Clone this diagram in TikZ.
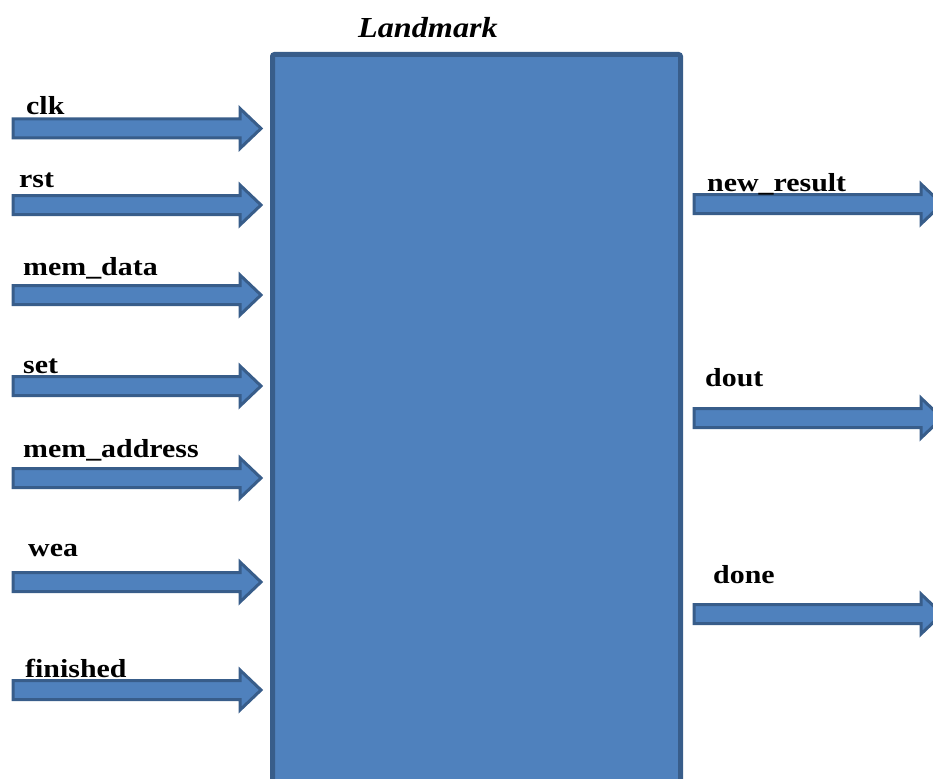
\documentclass[tikz,border=0pt]{standalone}
\usepackage{fontspec}
\setmainfont{Liberation Serif}
\usepackage{graphicx}
\definecolor{blockfill}{HTML}{4F81BD}
\definecolor{blockedge}{HTML}{385D8A}
\tikzset{
  sig/.style={anchor=base west, inner sep=0pt, font=\fontsize{26}{30}\selectfont\bfseries},
  arrowbody/.style={fill=blockfill, draw=blockedge, line width=3pt, line join=miter},
  blockarrow/.pic={
    \path[arrowbody] (0,-9.5) -- (227,-9.5) -- (227,-20) -- (248,0)
      -- (227,20) -- (227,9.5) -- (0,9.5) -- cycle;
  }
}
\newcommand{\siglabel}[1]{\scalebox{1.15}[1]{#1}}
\begin{document}
\begin{tikzpicture}[x=1pt, y=-1pt]
  \useasboundingbox (0,0) rectangle (933,778);
  \clip (0,0) rectangle (933,778);

  % module body
  \draw[fill=blockfill, draw=blockedge, line width=5pt, rounded corners=2pt]
    (272.5,54.5) rectangle (680.5,800);
  \node[anchor=base west, inner sep=0pt, font=\fontsize{29}{34}\selectfont\bfseries\itshape]
    (title) at (358,38) {\scalebox{1.11}[1]{Landmark}};

  % inputs
  \pic at (13,128.5) {blockarrow};
  \pic at (13,205)   {blockarrow};
  \pic at (13,295)   {blockarrow};
  \pic at (13,386)   {blockarrow};
  \pic at (13,478)   {blockarrow};
  \pic at (13,582)   {blockarrow};
  \pic at (13,690)   {blockarrow};
  \node[sig] (clk)     at (26,115) {\siglabel{clk}};
  \node[sig] (rst)     at (19,187) {\siglabel{rst}};
  \node[sig] (memdata) at (23,275) {\siglabel{mem\_data}};
  \node[sig] (set)     at (23,373) {\siglabel{set}};
  \node[sig] (memaddr) at (23,457) {\siglabel{mem\_address}};
  \node[sig] (wea)     at (28,556) {\siglabel{wea}};
  \node[sig] (fin)     at (25,677) {\siglabel{finished}};

  % outputs
  \pic at (694,204) {blockarrow};
  \pic at (694,418) {blockarrow};
  \pic at (694,614) {blockarrow};
  \node[sig] (newres) at (707,191) {\siglabel{new\_result}};
  \node[sig] (dout)   at (705,386) {\siglabel{dout}};
  \node[sig] (done)   at (713,583) {\siglabel{done}};
\end{tikzpicture}
\end{document}
